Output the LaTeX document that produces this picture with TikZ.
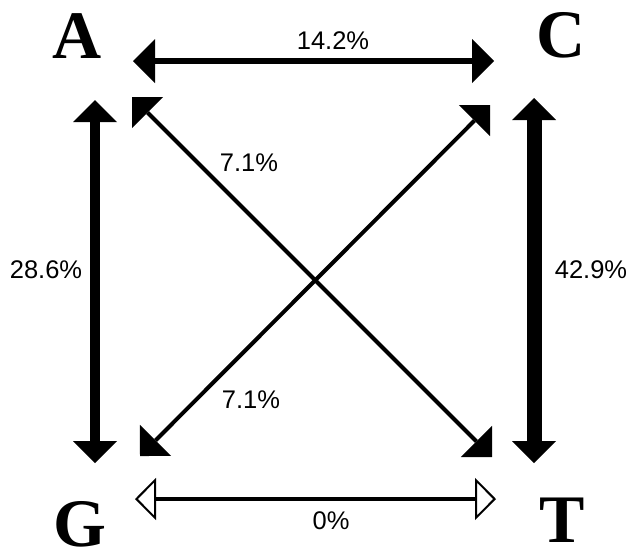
\documentclass[tikz,border=0pt]{standalone}
\usepackage{fontspec}
\setmainfont{Liberation Serif}
\newfontfamily\pctfont{Liberation Sans}
\usetikzlibrary{arrows.meta}
\begin{document}
\begin{tikzpicture}[x=1pt,y=-1pt,
  letter/.style={inner sep=0pt,anchor=base,font=\fontsize{68}{68}\selectfont\bfseries},
  pct/.style={inner sep=0pt,font=\pctfont\fontsize{25.5}{25.5}\selectfont},
  twohead/.style={{Triangle[length=22pt,width=44pt,line width=0pt]}-{Triangle[length=22pt,width=44pt,line width=0pt]}},
  openhead/.style={{Triangle[open,length=21pt,width=42pt,line width=2pt,fill=white]}-{Triangle[open,length=21pt,width=42pt,line width=2pt,fill=white]}}
]
\useasboundingbox (0,0) rectangle (631,550);
% letters
\node[letter] (A) at (77,58) {A};
\node[letter] (C) at (561,57) {C};
\node[letter] (G) at (80,546) {G};
\node[letter] (T) at (562,542) {T};
% arrow end points
\coordinate (acL) at (133,61);
\coordinate (acR) at (494,61);
\coordinate (agT) at (95,100);
\coordinate (agB) at (95,463);
\coordinate (ctT) at (534,98);
\coordinate (ctB) at (534,463);
\coordinate (gtL) at (135,499);
\coordinate (gtR) at (496,499);
\coordinate (atA) at (132,97);
\coordinate (atT) at (492,457);
\coordinate (cgC) at (490,105);
\coordinate (cgG) at (140,456);
% arrows
\draw[twohead,line width=6pt] (acL) -- (acR);
\draw[twohead,line width=10pt] (agT) -- (agB);
\draw[twohead,line width=15pt] (ctT) -- (ctB);
\draw[openhead,line width=4.5pt] (gtL) -- (gtR);
\draw[twohead,line width=4pt] (atA) -- (atT);
\draw[twohead,line width=4pt] (cgC) -- (cgG);
% labels
\node[pct] (lAC) at (333,41) {14.2\%};
\node[pct] (lGT) at (331,521) {0\%};
\node[pct] (lAG) at (46,270) {28.6\%};
\node[pct] (lCT) at (591,270) {42.9\%};
\node[pct] (lAT) at (249,163) {7.1\%};
\node[pct] (lCG) at (251,400) {7.1\%};
\end{tikzpicture}
\end{document}
